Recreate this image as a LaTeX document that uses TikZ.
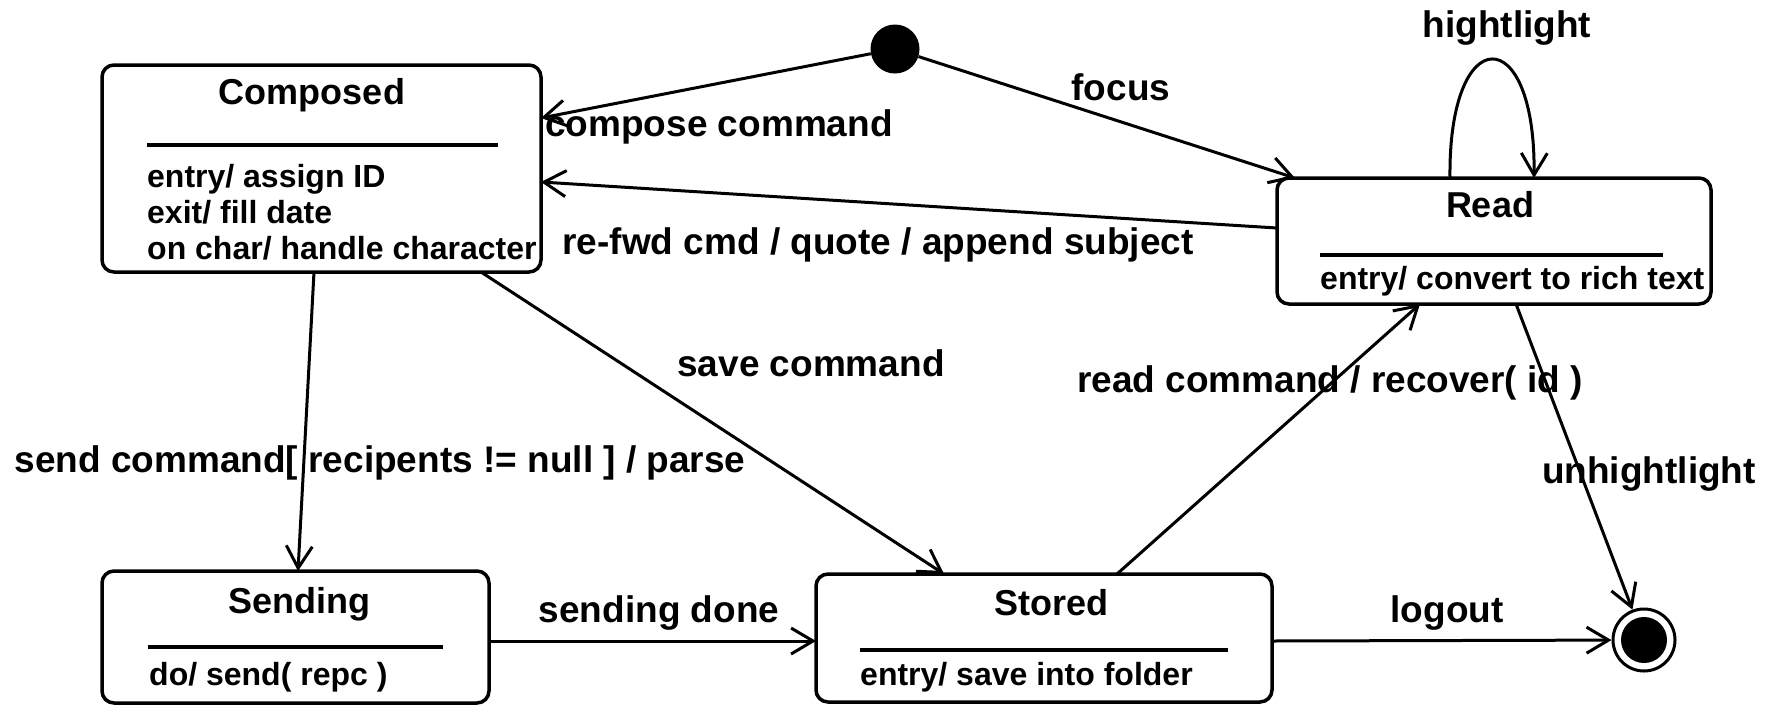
\documentclass[tikz,border=0pt]{standalone}
\usepackage{fontspec}
\setmainfont{Liberation Sans}
\usetikzlibrary{arrows.meta,calc}
\tikzset{
  statebox/.style={draw, line width=3.5pt, rounded corners=12pt, inner sep=0pt},
  titletext/.style={font=\fontsize{36}{40}\selectfont\bfseries, anchor=base, inner sep=0pt},
  bodytext/.style={font=\fontsize{32}{35}\selectfont\bfseries, anchor=base west, inner sep=0pt},
  lbl/.style={font=\fontsize{37}{40}\selectfont\bfseries, anchor=base, inner sep=0pt},
  tr/.style={line width=3pt, -{Straight Barb[length=22pt,width=26pt]}},
  divider/.style={line width=3.6pt},
}
\begin{document}
\begin{tikzpicture}[x=1pt,y=-1pt]
\path[fill=white, use as bounding box] (0,0) rectangle (1775,705);

% states
\node[statebox, minimum width=439pt, minimum height=207pt] (composed) at (321.5,168.5) {};
\node[statebox, minimum width=434pt, minimum height=126pt] (read) at (1494,241) {};
\node[statebox, minimum width=387pt, minimum height=132pt] (sending) at (295.5,637) {};
\node[statebox, minimum width=456pt, minimum height=128pt] (stored) at (1044,638) {};
\node[circle, fill=black, minimum size=49pt, inner sep=0pt] (init) at (895,49) {};
\node[circle, draw, line width=3pt, fill=white, minimum size=62pt, inner sep=0pt] (final) at (1644,640) {};
\node[circle, fill=black, minimum size=46pt, inner sep=0pt] (finalin) at (final.center) {};

% compartments
\node[titletext] (composedT) at (312,104) {Composed};
\draw[divider] (147,145) -- (498,145);
\node[bodytext] (composedA) at (147,187) {entry/ assign ID};
\node[bodytext] (composedB) at (147,223) {exit/ fill date};
\node[bodytext] (composedC) at (147,259) {on char/ handle character};

\node[titletext] (readT) at (1490,217) {Read};
\draw[divider] (1320,255) -- (1663,255);
\node[bodytext] (readA) at (1320,289) {entry/ convert to rich text};

\node[titletext] (sendingT) at (299,613) {Sending};
\draw[divider] (148,647) -- (443,647);
\node[bodytext] (sendingA) at (149,685) {do/ send( repc )};

\node[titletext] (storedT) at (1051,615) {Stored};
\draw[divider] (860,650) -- (1228,650);
\node[bodytext] (storedA) at (860,685) {entry/ save into folder};

% attachment points on borders
\coordinate (cA) at (541,118);
\coordinate (cB) at (541,182);
\coordinate (cC) at (314,272);
\coordinate (cD) at (481,272);
\coordinate (rA) at (1295,178);
\coordinate (rB) at (1277,228);
\coordinate (rC) at (1420,304);
\coordinate (rD) at (1516,304);
\coordinate (rL1) at (1450,178);
\coordinate (rL2) at (1534,178);
\coordinate (sA) at (298,571);
\coordinate (sB) at (489,641);
\coordinate (tA) at (944,574);
\coordinate (tB) at (1117,574);
\coordinate (tC) at (816,641);
\coordinate (tD) at (1272,641);

% transitions
\draw[tr] (init) -- (cA);
\draw[tr] (init) -- (rA);
\draw[tr] (rB) -- (cB);
\draw[tr] (rL1) .. controls (1448,20) and (1536,20) .. (rL2);
\draw[tr] (cC) -- (sA);
\draw[tr] (cD) -- (tA);
\draw[tr] (tB) -- (rC);
\draw[tr] (rD) -- (final);
\draw[tr] (sB) -- (tC);
\draw[tr] (tD) -- (final);

% labels
\node[lbl] (l1) at (719,136) {compose command};
\node[lbl] (l2) at (1121,100) {focus};
\node[lbl] (l3) at (878,254) {re-fwd cmd / quote / append subject};
\node[lbl] (l4) at (1507,37) {hightlight};
\node[lbl] (l5) at (380,472) {send command[ recipents != null ] / parse};
\node[lbl] (l6) at (811,376) {save command};
\node[lbl] (l7) at (1330,392) {read command / recover( id )};
\node[lbl] (l8) at (1649,483) {unhightlight};
\node[lbl] (l9) at (659,622) {sending done};
\node[lbl] (l10) at (1447,622) {logout};
\end{tikzpicture}
\end{document}
